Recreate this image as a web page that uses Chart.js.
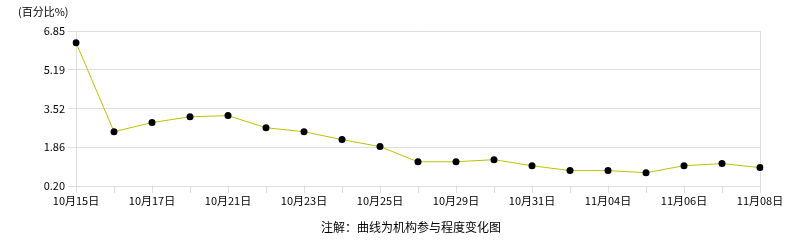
<!DOCTYPE html>
<html>
<head>
<meta charset="utf-8">
<script src="https://cdn.jsdelivr.net/npm/chart.js@4/dist/chart.umd.min.js"></script>
<style>
  html, body { margin: 0; padding: 0; background: #fff; }
  #wrap { position: relative; width: 786px; height: 240px; }
  .txt { position: absolute; font-family: "Noto Sans CJK SC", sans-serif; font-size: 11px; color: #000; white-space: nowrap; }
  #unit { left: 18px; top: 3px; }
  #note { left: 0; width: 822px; top: 218px; text-align: center; font-size: 12px; }
</style>
</head>
<body>
<div id="wrap">
  <canvas id="c" width="786" height="240"></canvas>
  <div class="txt" id="unit">(百分比%)</div>
  <div class="txt" id="note">注解：曲线为机构参与程度变化图</div>
</div>
<script>
const dates = [
  "10月15日", "10月16日", "10月17日", "10月18日", "10月21日", "10月22日",
  "10月23日", "10月24日", "10月25日", "10月28日", "10月29日", "10月30日",
  "10月31日", "11月01日", "11月04日", "11月05日", "11月06日", "11月07日", "11月08日",
];
const values = [
  6.35, 2.53, 2.92, 3.17, 3.22, 2.70, 2.53, 2.19, 1.89, 1.24,
  1.24, 1.33, 1.07, 0.86, 0.86, 0.77, 1.07, 1.16, 0.99,
];
const yTicks = [0.20, 1.8625, 3.525, 5.1875, 6.85];
const yTickLabels = ["0.20", "1.86", "3.52", "5.19", "6.85"];

const tickFont = { family: '"Noto Sans CJK SC", sans-serif', size: 11 };

new Chart(document.getElementById("c"), {
  type: "line",
  data: {
    labels: dates,
    datasets: [{
      data: values,
      borderColor: "#c0c000",
      borderWidth: 1,
      tension: 0,
      pointRadius: 3.5,
      pointHoverRadius: 3.5,
      pointBackgroundColor: "#000",
      pointBorderColor: "#000",
      pointBorderWidth: 0,
    }],
  },
  options: {
    responsive: false,
    animation: false,
    events: [],
    layout: { padding: { left: 0, right: 26, top: 31, bottom: 0 } },
    plugins: { legend: { display: false }, tooltip: { enabled: false } },
    scales: {
      x: {
        offset: false,
        grid: {
          color: (ctx) => (ctx.index === 0 || ctx.index === dates.length - 1 ? "#dddddd" : "rgba(0,0,0,0)"),
          tickColor: "#dddddd",
          tickLength: 7,
          lineWidth: 1,
        },
        border: { display: false },
        ticks: {
          autoSkip: false,
          maxRotation: 0,
          color: "#000",
          font: tickFont,
          padding: 1,
          callback: (v, i) => (i % 2 === 0 ? dates[i] : ""),
        },
        afterFit: (s) => { s.height = 54; },
      },
      y: {
        min: 0.2,
        max: 6.85,
        afterBuildTicks: (s) => { s.ticks = yTicks.map((v) => ({ value: v })); },
        grid: { color: "#dddddd", tickColor: "#dddddd", tickLength: 8, lineWidth: 1 },
        border: { color: "#dddddd" },
        ticks: {
          color: "#000",
          font: tickFont,
          padding: 3,
          callback: (v, i) => yTickLabels[i],
        },
        afterFit: (s) => { s.width = 76; },
      },
    },
  },
});
</script>
</body>
</html>
